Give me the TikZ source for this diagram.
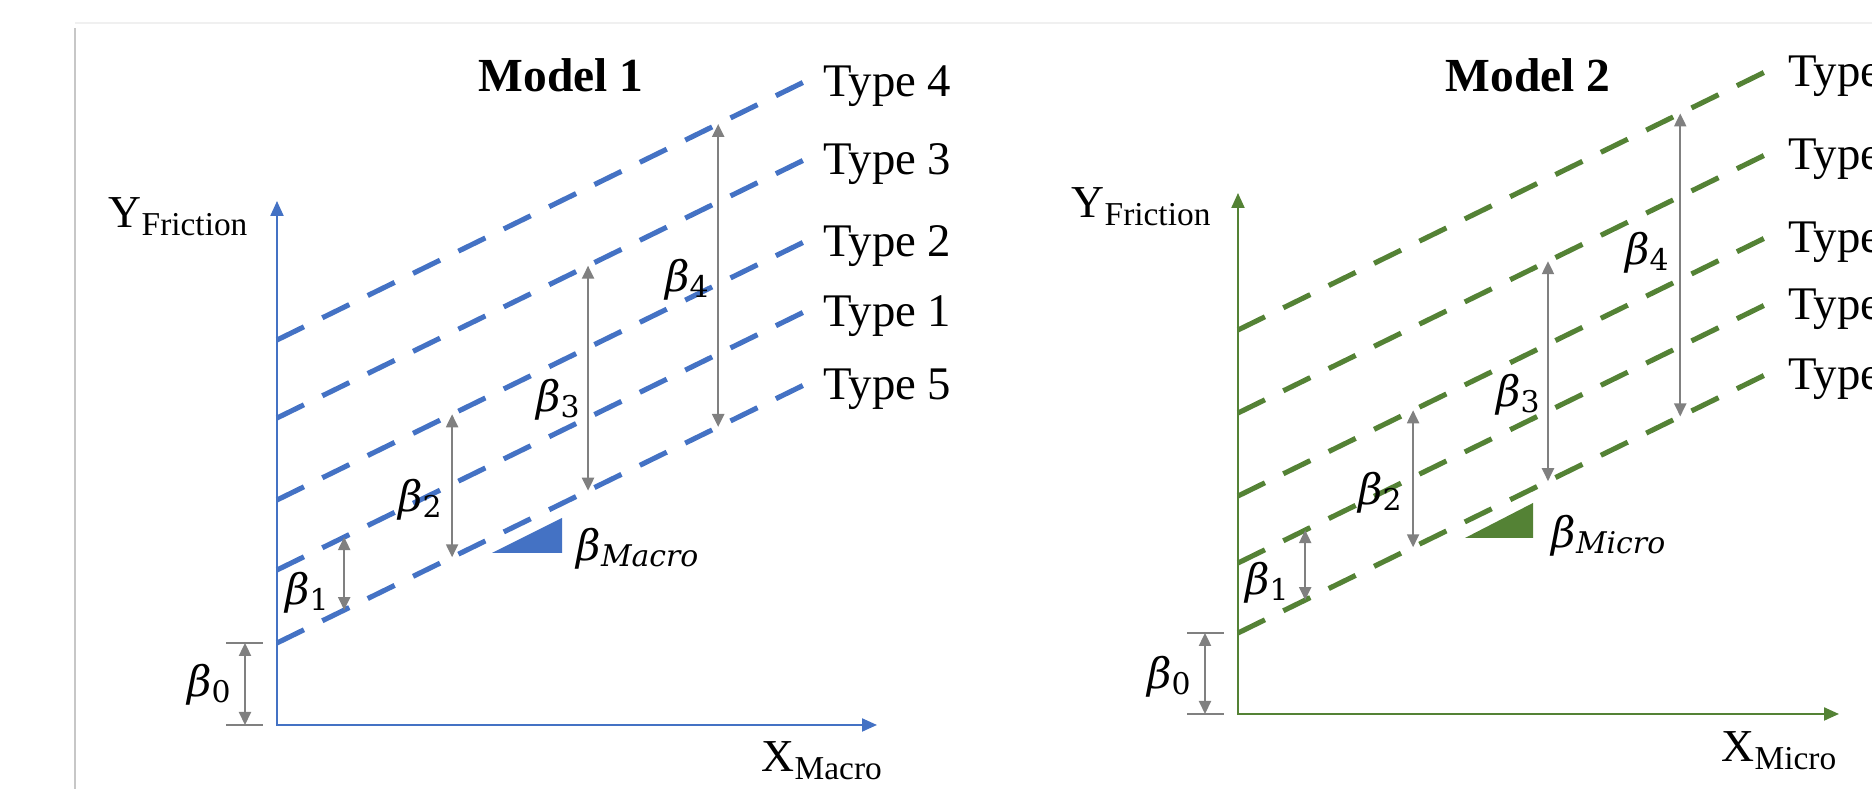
\documentclass[tikz,border=0pt]{standalone}
\usepackage{fontspec}
\setmainfont{Liberation Serif}
\newfontfamily\coeffont{DejaVu Serif}
\usetikzlibrary{arrows.meta,calc}

\definecolor{macroblue}{RGB}{68,114,196}
\definecolor{microgreen}{RGB}{84,130,53}
\definecolor{betagray}{RGB}{128,128,128}

% axis name with a lowered, smaller subscript
\newcommand{\lowsub}[2]{#1\raisebox{-0.8mm}{\fontsize{9.5}{11}\selectfont #2}}
% coefficient beta with its index
\newcommand{\coef}[1]{{\coeffont\itshape β}\raisebox{-0.6mm}{\fontsize{8.5}{10}\selectfont\coeffont #1}}

\tikzset{
  axisline/.style={line width=0.6pt, {Triangle[length=1.5mm,width=1.3mm]}-{Triangle[length=1.5mm,width=1.3mm]}},
  typeline/.style={line width=1.45pt, dash pattern=on 3mm off 2.05mm},
  betaarrow/.style={betagray, line width=0.65pt, {Triangle[length=1.3mm,width=1.2mm]}-{Triangle[length=1.3mm,width=1.2mm]}},
  bartick/.style={betagray, line width=0.65pt},
  typelabel/.style={anchor=west, xshift=0.5mm, yshift=-0.5mm},
  betalabel/.style={inner sep=0pt, font=\fontsize{12}{14}\selectfont},
  axislabel/.style={anchor=base west, inner sep=0pt, font=\fontsize{13}{15}\selectfont},
  modeltitle/.style={anchor=base, inner sep=0pt, font=\fontsize{13.5}{16}\selectfont\bfseries},
}

\begin{document}
\begin{tikzpicture}[font=\fontsize{13.3}{15}\selectfont]
  \useasboundingbox (0,0) rectangle (18.72,7.89);
  \clip (0,0) rectangle (18.72,7.89);
  % page edge
  \draw[black!22, line width=0.7pt] (0.75,0) -- (0.75,7.61);
  \draw[black!6, line width=0.5pt] (0.75,7.66) -- (18.72,7.66);

  \node[modeltitle] (m1) at (5.61,6.97) {Model 1};
  \node[modeltitle] (m2) at (15.28,6.97) {Model 2};

  % Model 1
  \begin{scope}[shift={(2.77,0.64)}]
    \coordinate (lO) at (0,0);
    \coordinate (lY) at (0,5.24);
    \coordinate (lX) at (6.0,0);
    \draw[axisline, macroblue] (lY) -- (lO) -- (lX);
    \node[axislabel] (lylab) at (-1.69,4.97) {\lowsub{Y}{Friction}};
    \node[axislabel] (lxlab) at (4.84,-0.47) {\lowsub{X}{Macro}};
    \foreach \i/\y in {5/0.82, 1/1.55, 2/2.25, 3/3.07, 4/3.85} {
      \coordinate (ls\i) at (0,\y);
      \coordinate (le\i) at (5.29,\y+2.59);
      \draw[typeline, macroblue] (ls\i) -- (le\i);
      \node[typelabel] (lt\i) at (le\i) {Type \i};
    }
    \foreach \i/\p in {1/0.127, 2/0.331, 3/0.588, 4/0.834} {
      \coordinate (lbt\i) at ($(ls\i)!\p!(le\i)$);
      \coordinate (lbb\i) at ($(ls5)!\p!(le5)$);
      \draw[betaarrow] (lbt\i) -- (lbb\i);
    }
    \coordinate (lza) at (-0.51,0.82);
    \coordinate (lzb) at (-0.14,0.82);
    \coordinate (lzc) at (-0.51,0);
    \coordinate (lzd) at (-0.14,0);
    \draw[bartick] (lza) -- (lzb);
    \draw[bartick] (lzc) -- (lzd);
    \coordinate (lbt0) at (-0.32,0.82);
    \coordinate (lbb0) at (-0.32,0);
    \draw[betaarrow] (lbt0) -- (lbb0);
    \node[betalabel] (lb0) at (-0.68,0.40) {\coef{0}};
    \node[betalabel] (lb1) at (0.30,1.32) {\coef{1}};
    \node[betalabel] (lb2) at (1.43,2.25) {\coef{2}};
    \node[betalabel] (lb3) at (2.81,3.25) {\coef{3}};
    \node[betalabel] (lb4) at (4.10,4.45) {\coef{4}};
    \fill[macroblue] (2.15,1.72) -- (2.85,1.72) -- (2.85,2.07) -- cycle;
    \node[betalabel, anchor=west] (lslope) at (2.99,1.76) {\coef{\itshape Macro}};
  \end{scope}

  % Model 2
  \begin{scope}[shift={(12.38,0.75)}]
    \coordinate (rO) at (0,0);
    \coordinate (rY) at (0,5.21);
    \coordinate (rX) at (6.01,0);
    \draw[axisline, microgreen] (rY) -- (rO) -- (rX);
    \node[axislabel] (rylab) at (-1.67,4.96) {\lowsub{Y}{Friction}};
    \node[axislabel] (rxlab) at (4.83,-0.48) {\lowsub{X}{Micro}};
    \foreach \i/\y in {5/0.81, 1/1.51, 2/2.18, 3/3.01, 4/3.84} {
      \coordinate (rs\i) at (0,\y);
      \coordinate (re\i) at (5.29,\y+2.59);
      \draw[typeline, microgreen] (rs\i) -- (re\i);
      \node[typelabel, xshift=0.4mm] (rt\i) at (re\i) {Type \i};
    }
    \foreach \i/\p in {1/0.127, 2/0.331, 3/0.586, 4/0.836} {
      \coordinate (rbt\i) at ($(rs\i)!\p!(re\i)$);
      \coordinate (rbb\i) at ($(rs5)!\p!(re5)$);
      \draw[betaarrow] (rbt\i) -- (rbb\i);
    }
    \coordinate (rza) at (-0.51,0.81);
    \coordinate (rzb) at (-0.14,0.81);
    \coordinate (rzc) at (-0.51,0);
    \coordinate (rzd) at (-0.14,0);
    \draw[bartick] (rza) -- (rzb);
    \draw[bartick] (rzc) -- (rzd);
    \coordinate (rbt0) at (-0.33,0.81);
    \coordinate (rbb0) at (-0.33,0);
    \draw[betaarrow] (rbt0) -- (rbb0);
    \node[betalabel] (rb0) at (-0.69,0.37) {\coef{0}};
    \node[betalabel] (rb1) at (0.29,1.31) {\coef{1}};
    \node[betalabel] (rb2) at (1.42,2.21) {\coef{2}};
    \node[betalabel] (rb3) at (2.80,3.19) {\coef{3}};
    \node[betalabel] (rb4) at (4.09,4.61) {\coef{4}};
    \fill[microgreen] (2.27,1.76) -- (2.95,1.76) -- (2.95,2.11) -- cycle;
    \node[betalabel, anchor=west] (rslope) at (3.13,1.78) {\coef{\itshape Micro}};
  \end{scope}
\end{tikzpicture}
\end{document}
